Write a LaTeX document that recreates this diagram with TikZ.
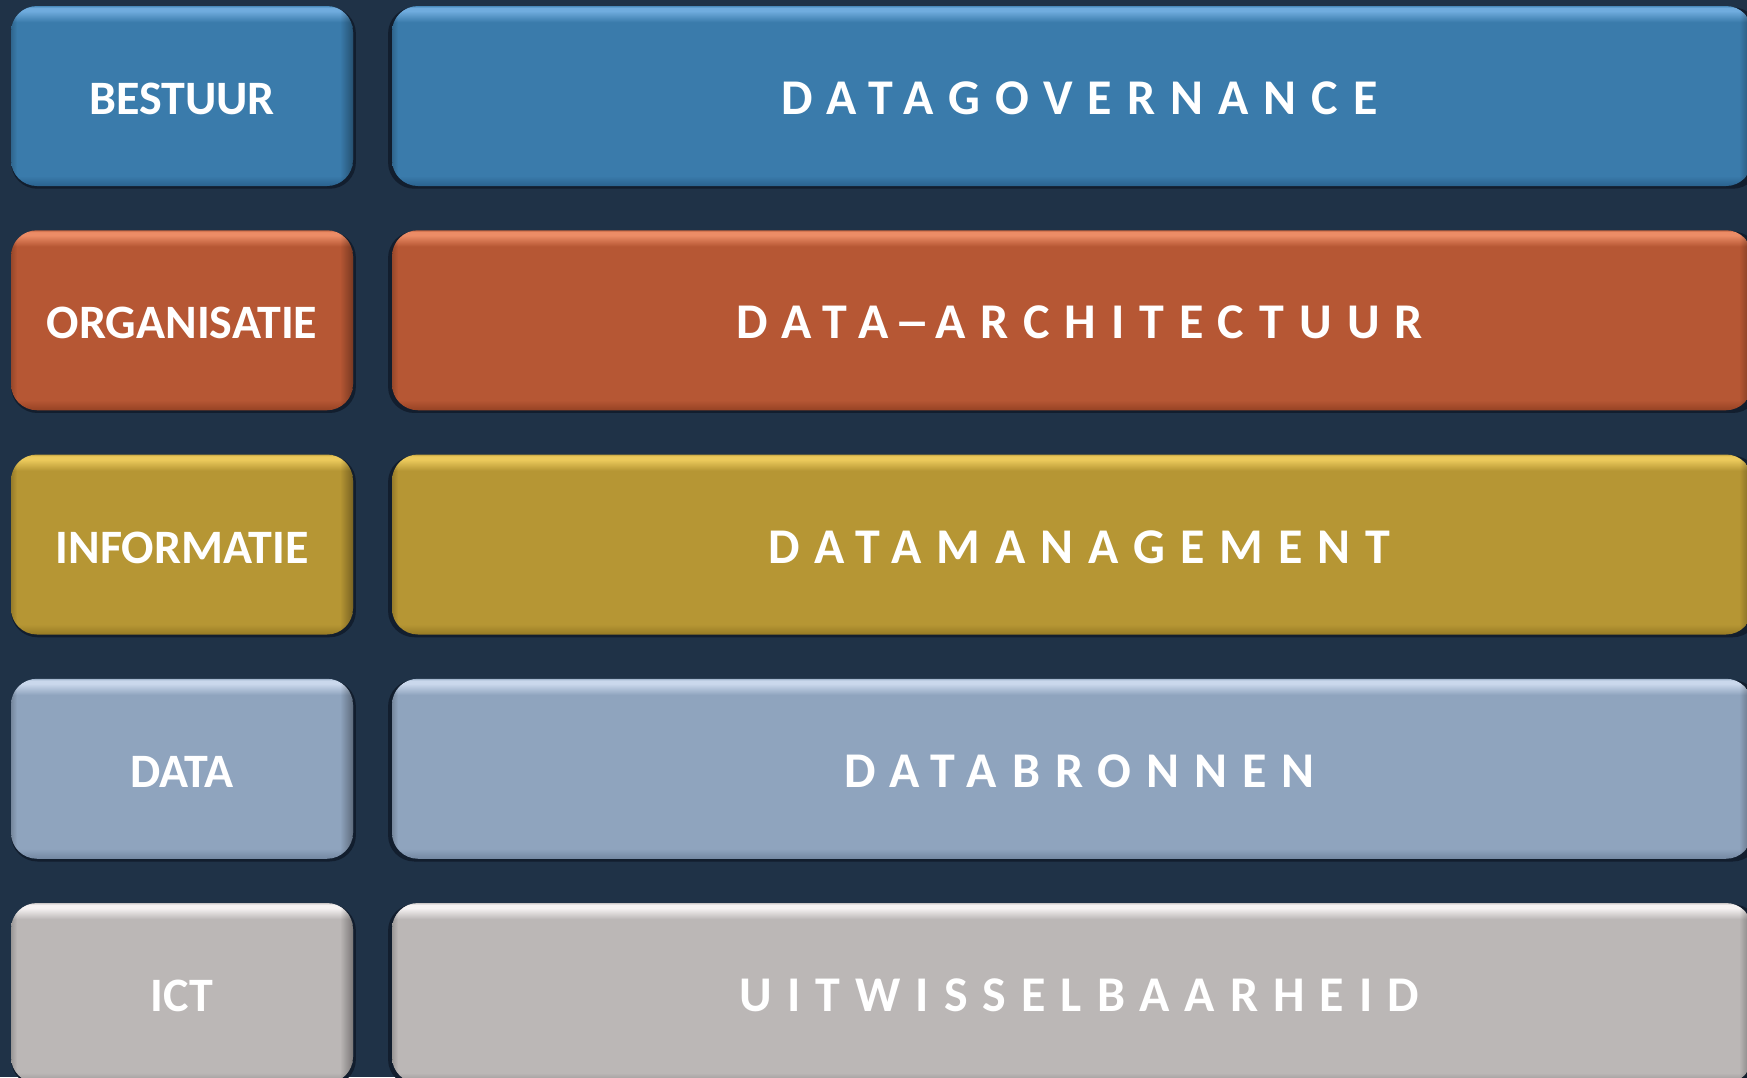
\documentclass[tikz,border=0pt]{standalone}
\usepackage{fontspec}
\usepackage{graphicx}
\setmainfont{Carlito}
\usetikzlibrary{shadows,fadings}
\definecolor{bgc}{RGB}{31,50,71}
\definecolor{shadowc}{RGB}{18,30,46}
\definecolor{blueB}{RGB}{58,123,171}\definecolor{blueL}{RGB}{112,172,222}\definecolor{blueD}{RGB}{42,98,142}
\definecolor{oranB}{RGB}{182,87,52}\definecolor{oranL}{RGB}{236,140,102}\definecolor{oranD}{RGB}{150,66,36}
\definecolor{goldB}{RGB}{182,150,52}\definecolor{goldL}{RGB}{236,202,92}\definecolor{goldD}{RGB}{150,122,36}
\definecolor{slatB}{RGB}{143,164,190}\definecolor{slatL}{RGB}{202,216,236}\definecolor{slatD}{RGB}{116,136,162}
\definecolor{grayB}{RGB}{187,183,182}\definecolor{grayL}{RGB}{246,243,243}\definecolor{grayD}{RGB}{150,146,146}
\newcommand\mkshade[4]{%
 \pgfdeclareverticalshading{#1}{100bp}{color(0bp)=(#2); color(25bp)=(#2); color(27.8bp)=(#3); color(70.5bp)=(#3); color(73.6bp)=(#4); color(74.5bp)=(#4); color(75bp)=(#3!70!#4); color(100bp)=(#3)}}
\mkshade{shblue}{blueD}{blueB}{blueL}
\mkshade{shoran}{oranD}{oranB}{oranL}
\mkshade{shgold}{goldD}{goldB}{goldL}
\mkshade{shslat}{slatD}{slatB}{slatL}
\mkshade{shgray}{grayD}{grayB}{grayL}
\tikzset{
 tile/.style={rounded corners=26pt, minimum height=180pt, inner sep=0pt, text=white,
   text height=37pt, text depth=0pt,
   general shadow={fill=shadowc, shadow xshift=1.5pt, shadow yshift=-2pt, shadow scale=1.008}},
 lefttile/.style={tile, minimum width=342pt, font=\fontsize{48}{58}\selectfont\bfseries},
 righttile/.style={tile, minimum width=1360pt, font=\fontsize{50}{60}\selectfont\bfseries\addfontfeature{LetterSpace=30}},
}
\newcommand\trk[1]{#1\kern-15pt}
\begin{document}
\begin{tikzpicture}[x=1pt,y=-1pt]
\useasboundingbox (0,0) rectangle (1747,1077);
\fill[bgc] (0,0) rectangle (1747,1077);
\node[lefttile, shading=shblue] (l1) at (182,96) {BESTUUR};
\node[righttile, shading=shblue] (r1) at (1072,96) {\trk{DATAGOVERNANCE}};
\node[lefttile, shading=shoran] (l2) at (182,320.25) {ORGANISATIE};
\node[righttile, shading=shoran] (r2) at (1072,320.25) {\trk{DATA\kern5pt\scalebox{1.45}[1]{–}\kern5pt ARCHITECTUUR}};
\node[lefttile, shading=shgold] (l3) at (182,544.5) {INFORMATIE};
\node[righttile, shading=shgold] (r3) at (1072,544.5) {\trk{DATAMANAGEMENT}};
\node[lefttile, shading=shslat] (l4) at (182,768.75) {DATA};
\node[righttile, shading=shslat] (r4) at (1072,768.75) {\trk{DATABRONNEN}};
\node[lefttile, shading=shgray] (l5) at (182,993) {ICT};
\node[righttile, shading=shgray] (r5) at (1072,993) {\trk{UITWISSELBAARHEID}};
\foreach \n in {l1,r1,l2,r2,l3,r3,l4,r4,l5,r5}{
  \begin{scope}
    \clip[rounded corners=26pt] (\n.south west) rectangle (\n.north east);
    \fill[black, opacity=0.35, path fading=west] ([xshift=-13pt]\n.north east) rectangle (\n.south east);
    \fill[black, opacity=0.18, path fading=east] (\n.north west) rectangle ([xshift=6pt]\n.south west);
  \end{scope}
}
\end{tikzpicture}
\end{document}
